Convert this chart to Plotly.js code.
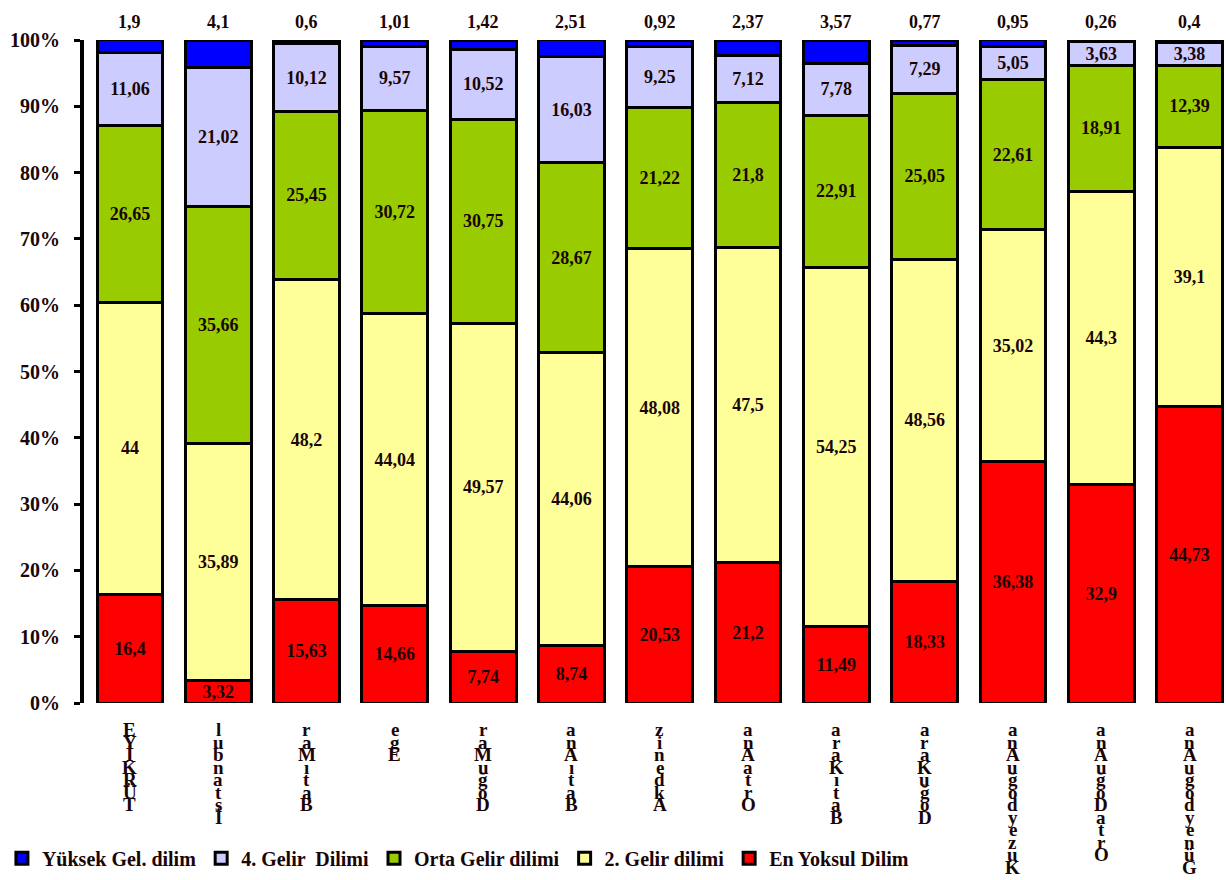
<!DOCTYPE html>
<html>
<head>
<meta charset="utf-8">
<script src="https://cdn.plot.ly/plotly-3.0.1.min.js"></script>
<style>html,body{margin:0;padding:0;background:#fff;}#chart{width:1226px;height:880px;}</style>
</head>
<body>
<div id="chart"></div>
<script>
// Region labels as they appear in the picture (letters stacked vertically, top to bottom)
var regionLetters = [
  ["E","Y","İ","K","R","Ü","T"],
  ["l","u","b","n","a","t","s","İ"],
  ["r","a","M","ı","t","a","B"],
  ["e","g","E"],
  ["r","a","M","u","ğ","o","D"],
  ["a","n","A","ı","t","a","B"],
  ["z","i","n","e","d","k","A"],
  ["a","n","A","a","t","r","O"],
  ["a","r","a","K","ı","t","a","B"],
  ["a","r","a","K","u","ğ","o","D"],
  ["a","n","A","u","ğ","o","d","y","e","z","u","K"],
  ["a","n","A","u","ğ","o","D","a","t","r","O"],
  ["a","n","A","u","ğ","o","d","y","e","n","ü","G"]
];
var categories = ["TÜRKİYE","İstanbul","Batı Marmara","Ege","Doğu Marmara","Batı Anadolu","Akdeniz","Orta Anadolu","Batı Karadeniz","Doğu Karadeniz","Kuzeydoğu Anadolu","Orta Doğu Anadolu","Güneydoğu Anadolu"];

var enYoksul  = [16.4, 3.32, 15.63, 14.66, 7.74, 8.74, 20.53, 21.2, 11.49, 18.33, 36.38, 32.9, 44.73];
var gelir2    = [44, 35.89, 48.2, 44.04, 49.57, 44.06, 48.08, 47.5, 54.25, 48.56, 35.02, 44.3, 39.1];
var ortaGelir = [26.65, 35.66, 25.45, 30.72, 30.75, 28.67, 21.22, 21.8, 22.91, 25.05, 22.61, 18.91, 12.39];
var gelir4    = [11.06, 21.02, 10.12, 9.57, 10.52, 16.03, 9.25, 7.12, 7.78, 7.29, 5.05, 3.63, 3.38];
var yuksek    = [1.9, 4.1, 0.6, 1.01, 1.42, 2.51, 0.92, 2.37, 3.57, 0.77, 0.95, 0.26, 0.4];

var yTickVals = [0,10,20,30,40,50,60,70,80,90,100];
var yTickText = ["0%","10%","20%","30%","40%","50%","60%","70%","80%","90%","100%"];

var seriesNames = ["En Yoksul Dilim","2. Gelir dilimi","Orta Gelir dilimi","4. Gelir  Dilimi","Yüksek Gel. dilim"];
var seriesColors = ["#FF0000","#FFFF99","#99CC00","#CCCCFF","#0000FF"];
var seriesData = [enYoksul, gelir2, ortaGelir, gelir4, yuksek];

var xIdx = categories.map(function(_, i){ return i; });
function fmt(v){ return String(v).replace('.', ','); }

var FONT = "Liberation Serif, Times New Roman, serif";
var TXT = "#1a0505";

var traces = seriesData.map(function(vals, k){
  var top = (k === seriesData.length - 1);
  return {
    type: 'bar',
    name: seriesNames[k],
    x: xIdx,
    y: vals,
    text: top ? vals.map(function(){ return ''; }) : vals.map(fmt),
    textposition: top ? 'none' : 'inside',
    insidetextanchor: 'middle',
    constraintext: 'none',
    textangle: 0,
    cliponaxis: false,
    insidetextfont: {family: FONT, size: 18, color: TXT, weight: 'bold'},
    marker: {color: seriesColors[k], line: {color: '#000', width: 3}},
    hoverinfo: 'name+y'
  };
});

var annotations = [];
// top labels (Yüksek Gel. dilim values) above each stack
yuksek.forEach(function(v, i){
  var total = 0;
  seriesData.forEach(function(s){ total += s[i]; });
  annotations.push({
    x: i, xref: 'x', y: Math.min(total, 100), yref: 'y',
    yanchor: 'bottom', xanchor: 'center', yshift: 6,
    text: fmt(v), showarrow: false,
    font: {family: FONT, size: 18, color: TXT, weight: 'bold'}
  });
});
// stacked vertical category letters
regionLetters.forEach(function(letters, i){
  letters.forEach(function(ch, j){
    annotations.push({
      x: i, xref: 'x', y: 0, yref: 'paper',
      yanchor: 'top', xanchor: 'center',
      yshift: -14 - j * 12.5,
      text: ch, showarrow: false,
      font: {family: FONT, size: 19, color: TXT, weight: 'bold'}
    });
  });
});

var layout = {
  width: 1226, height: 880,
  margin: {l: 84, r: 2, t: 40, b: 174},
  paper_bgcolor: '#fff', plot_bgcolor: '#fff',
  barmode: 'stack',
  bargap: 0.255,
  showlegend: true,
  legend: {
    orientation: 'h', x: -0.072, xanchor: 'left', y: -0.234, yanchor: 'middle',
    traceorder: 'reversed',
    font: {family: FONT, size: 20, color: TXT, weight: 'bold'},
    itemwidth: 30
  },
  xaxis: {
    range: [-0.52, 12.39],
    showticklabels: false, showgrid: false, zeroline: false, showline: false, ticks: ''
  },
  yaxis: {
    range: [0, 100],
    tickvals: yTickVals,
    ticktext: yTickText,
    showgrid: false, zeroline: false,
    showline: true, linecolor: '#000', linewidth: 4,
    ticks: 'outside', ticklen: 6, tickwidth: 3, tickcolor: '#000',
    ticklabelstandoff: 10,
    tickfont: {family: FONT, size: 20, color: TXT, weight: 'bold'}
  },
  annotations: annotations
};

Plotly.newPlot('chart', traces, layout, {displayModeBar: false, staticPlot: true});
</script>
</body>
</html>
